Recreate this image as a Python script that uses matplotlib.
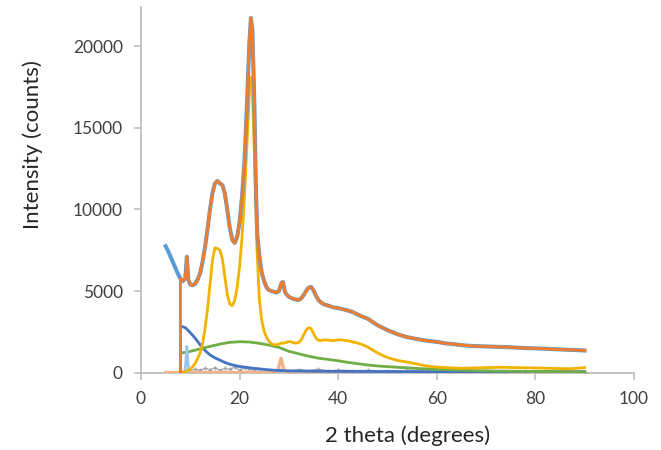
import numpy as np
import matplotlib
matplotlib.use('Agg')
import matplotlib.pyplot as plt

obs_x = [5.0, 5.5, 6.0, 6.5, 7.0, 7.5, 8.0, 8.5, 9.0, 9.3, 9.6, 10.0, 10.5, 11.0, 11.5, 12.0,
         12.5, 13.0, 13.5, 14.0, 14.5, 15.0, 15.5, 16.0, 16.5, 17.0, 17.5, 18.0, 18.5, 19.0,
         19.5, 20.0, 20.5, 21.0, 21.5, 22.0, 22.3, 22.6, 23.0, 23.3, 23.6, 24.0, 24.5, 25.0,
         25.5, 26.0, 26.5, 27.0, 27.5, 28.0, 28.5, 28.8, 29.2, 29.5, 30.0, 31.0, 32.0, 32.5, 33.0,
         33.5, 34.0, 34.5, 35.0, 35.5, 36.0, 36.5, 37.0, 38.0, 39.0, 40.0, 41.0, 42.0, 43.0,
         44.0, 45.0, 46.0, 47.0, 48.0, 49.0, 50.0, 52.0, 54.0, 56.0, 58.0, 60.0, 62.0, 64.0,
         66.0, 68.0, 70.0, 72.0, 74.0, 76.0, 78.0, 80.0, 82.0, 84.0, 86.0, 88.0, 90.0]
obs_y = [7750, 7450, 7100, 6750, 6400, 6050, 5750, 5600, 5800, 7100, 5700, 5400, 5350, 5450, 5700, 6100,
         6800, 7700, 8800, 10000, 11000, 11600, 11750, 11600, 11500, 11000, 10000, 8900, 8150, 7950,
         8300, 9200, 10800, 13000, 16500, 20300, 21750, 21000, 16500, 11500, 8500, 7200, 6100, 5600,
         5200, 5050, 5000, 4950, 4900, 5000, 5500, 5550, 4950, 4800, 4650, 4500, 4450, 4550, 4750,
         5000, 5200, 5250, 5050, 4700, 4450, 4300, 4200, 4100, 4000, 3950, 3880, 3800, 3700,
         3550, 3420, 3300, 3100, 2900, 2750, 2600, 2350, 2170, 2050, 1950, 1880, 1780, 1720,
         1650, 1620, 1600, 1580, 1560, 1530, 1500, 1480, 1460, 1430, 1400, 1380, 1350]

# fitted sum, starts at 8 deg (vertical line from 0)
fit_x = [8.0] + obs_x[6:]
fit_y = [0] + obs_y[6:]

# crystalline peaks (gold)
cry_x = [8.0, 9.0, 10.0, 11.0, 12.0, 12.5, 13.0, 13.5, 14.0, 14.5, 15.0, 15.5, 16.0, 16.5, 17.0,
         17.5, 18.0, 18.5, 19.0, 19.5, 20.0, 20.5, 21.0, 21.5, 22.0, 22.3, 22.6, 23.0, 23.5, 24.0,
         24.5, 25.0, 25.5, 26.0, 26.5, 27.0, 27.5, 28.0, 28.5, 29.0, 29.5, 30.0, 30.5, 31.0, 31.5,
         32.0, 32.5, 33.0, 33.5, 34.0, 34.5, 35.0, 35.5, 36.0, 36.5, 37.0, 38.0, 39.0, 40.0, 41.0,
         42.0, 43.0, 44.0, 45.0, 46.0, 47.0, 48.0, 49.0, 50.0, 52.0, 54.0, 56.0, 58.0, 60.0, 62.0,
         65.0, 68.0, 70.0, 73.0, 76.0, 80.0, 84.0, 87.0, 90.0]
cry_y = [0, 50, 200, 550, 1200, 1800, 2700, 3900, 5400, 6900, 7650, 7600, 7500, 7000, 5900,
         4800, 4200, 4100, 4400, 5200, 6500, 8300, 10800, 14000, 17200, 18100, 17300, 13500, 7800, 4500,
         3200, 2500, 2150, 1900, 1750, 1700, 1700, 1750, 1800, 1800, 1850, 1900, 1880, 1820, 1800,
         1850, 2000, 2300, 2600, 2750, 2700, 2400, 2100, 1980, 1950, 2000, 1990, 1950, 2000, 1990,
         1950, 1870, 1800, 1700, 1560, 1380, 1200, 1050, 920, 740, 640, 520, 400, 330, 300,
         260, 280, 300, 320, 300, 280, 250, 230, 300]

# broad amorphous hump (green)
amo_x = [8.0, 8.0, 10, 12, 14, 16, 18, 20, 22, 24, 26, 28, 30, 32, 34, 36, 38, 40, 42, 44,
         46, 48, 50, 52, 56, 60, 65, 70, 80, 90]
amo_y = [0, 1180, 1300, 1450, 1600, 1740, 1850, 1890, 1870, 1790, 1680, 1540, 1300, 1150, 1000,
         880, 800, 720, 620, 540, 460, 400, 360, 320, 250, 190, 140, 100, 60, 40]

# low angle component (dark blue)
low_x = [8.0, 8.0, 9, 10, 11, 12, 13, 14, 15, 16, 17, 18, 19, 20, 22, 24, 26, 28, 30, 35,
         40, 50, 60, 70, 80, 90]
low_y = [0, 2850, 2750, 2450, 2100, 1700, 1350, 1080, 900, 760, 620, 510, 430, 370, 290, 220,
         160, 120, 100, 80, 70, 60, 50, 50, 50, 50]

# narrow spike near 9 deg (light blue)
sp1_x = [8.9, 9.1, 9.3, 9.5, 9.7]
sp1_y = [0, 700, 1600, 700, 0]

# peak at 28.4 deg (salmon)
sp2_x = [5.0, 27.6, 28.0, 28.4, 28.8, 29.2, 90.0]
sp2_y = [0, 0, 400, 870, 400, 0, 0]

# residual (gray)
res_x = [10, 11, 12, 13, 14, 15, 16, 17, 18, 19, 20, 21, 22, 23, 24, 26, 28, 30, 32, 34, 36, 38,
         40, 43, 46, 50, 54, 58, 62, 66, 70, 74, 78, 82, 86, 90]
res_y = [120, 200, 150, 260, 180, 300, 140, 250, 200, 320, 160, 280, 220, 150, 240, 130, 200, 110,
         180, 120, 210, 100, 160, 120, 140, 90, 130, 80, 110, 70, 100, 60, 90, 70, 80, 60]

plt.rcParams['font.family'] = ['Lato', 'DejaVu Sans']
fig = plt.figure(figsize=(6.61, 4.5), dpi=100)
ax = fig.add_axes([0.2133, 0.1722, 0.7457, 0.8122])

ax.plot(res_x, res_y, color='#A5A5A5', linewidth=0.8, marker='+', ms=2.5, zorder=3)
ax.plot(sp2_x, sp2_y, color='#F4B183', linewidth=2.4, zorder=3)
ax.plot(low_x, low_y, color='#4472C4', linewidth=2, zorder=3)
ax.plot(amo_x, amo_y, color='#70AD47', linewidth=2, zorder=3)
ax.plot(sp1_x, sp1_y, color='#9DC3E6', linewidth=2, zorder=3)
ax.plot(cry_x, cry_y, color='#F2B300', linewidth=2, zorder=4)
ax.plot(obs_x, obs_y, color='#5B9BD5', linewidth=2.9, zorder=5)
ax.plot(fit_x, fit_y, color='#ED7D31', linewidth=2.1, zorder=6)

ax.set_xlim(0, 100)
ax.set_ylim(0, 22420)
ax.set_xticks(np.arange(0, 101, 20))
ax.set_yticks(np.arange(0, 20001, 5000))

for s in ['top', 'right']:
    ax.spines[s].set_visible(False)
for s in ['left', 'bottom']:
    ax.spines[s].set_color('#BFBFBF')
    ax.spines[s].set_linewidth(1.3)
ax.tick_params(axis='both', colors='#BFBFBF', labelcolor='#404040', labelsize=12.5,
               length=5, width=1.2, pad=8)

ax.set_xlabel('2 theta (degrees)', fontsize=16, color='#262626')
ax.set_ylabel('Intensity (counts)', fontsize=16, color='#262626')
# Excel placed the axis titles a bit off-centre
ax.xaxis.set_label_coords(0.54, -0.145)
ax.yaxis.set_label_coords(-0.198, 0.625)

plt.savefig('out.png', dpi=100)
print('Created successfully!')
